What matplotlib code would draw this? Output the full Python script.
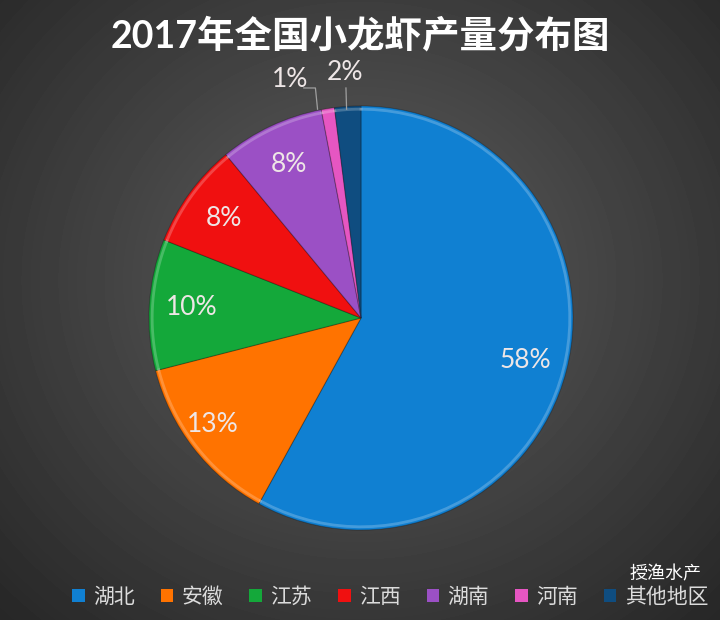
import numpy as np
import matplotlib.pyplot as plt
from matplotlib.patches import Patch

plt.rcParams['font.family'] = ['Lato', 'Noto Sans CJK SC', 'DejaVu Sans']

# data
provinces = ["湖北", "安徽", "江苏", "江西", "湖南", "河南", "其他地区"]
shares = [58, 13, 10, 8, 8, 1, 2]
colors = ["#1080d2", "#ff7300", "#14a83a", "#f01010", "#9b50c5", "#e656c2", "#0f4d80"]
title = "2017年全国小龙虾产量分布图"

fig = plt.figure(figsize=(7.2, 6.2), dpi=100)

# dark radial background
bg = fig.add_axes([0, 0, 1, 1], zorder=0)
yy, xx = np.mgrid[0:620, 0:720]
r = np.sqrt(((xx - 360) / 520) ** 2 + ((yy - 280) / 480) ** 2)
shade = np.clip(0.37 - 0.22 * r, 0.14, 0.37)
bg.imshow(shade, cmap="gray", vmin=0, vmax=1, aspect="auto", extent=[0, 720, 620, 0])
bg.axis("off")

ax = fig.add_axes([(361 - 212) / 720, (620 - 530) / 620, 424 / 720, 424 / 620], zorder=1)
wedges, texts, autotexts = ax.pie(
    shares, colors=colors, startangle=90, counterclock=False, radius=1,
    autopct="%d%%", pctdistance=0.8,
    wedgeprops=dict(edgecolor=(0, 0, 0, 0.25), linewidth=0.8),
    textprops=dict(color="#eee6e6", fontsize=19),
)

# lighter bevel ring on the rim
for w in wedges:
    th = np.linspace(np.radians(w.theta1), np.radians(w.theta2), 60)
    ax.plot(0.985 * np.cos(th), 0.985 * np.sin(th), color="white", alpha=0.22, lw=2)

# small slices: labels outside with leader lines
autotexts[1].set_position((-0.7, -0.5))
autotexts[5].set_position((-0.335, 1.125))
autotexts[6].set_position((-0.075, 1.16))
ax.plot([-0.27, -0.215, -0.205], [1.085, 1.085, 0.985], color="#a0a0a0", lw=0.9, clip_on=False)
ax.plot([-0.071, -0.068], [1.085, 0.985], color="#a0a0a0", lw=0.9, clip_on=False)

ax.set_xlim(-1, 1)
ax.set_ylim(-1, 1)
ax.set_aspect("equal")
ax.axis("off")

fig.text(0.5, 0.943, title, ha="center", va="center", fontsize=27,
         fontweight="bold", color="white")

handles = [Patch(facecolor=c, edgecolor="none") for c in colors]
fig.legend(handles, provinces, loc="center", bbox_to_anchor=(0.542, 0.037), ncol=7,
           frameon=False, fontsize=15, labelcolor="#dcdcdc", handlelength=0.6,
           handleheight=0.6, handletextpad=0.4, columnspacing=1.25)

fig.text(0.925, 0.075, "授渔水产", ha="center", va="center", fontsize=13, color="white")

fig.savefig("out.png", dpi=100)
